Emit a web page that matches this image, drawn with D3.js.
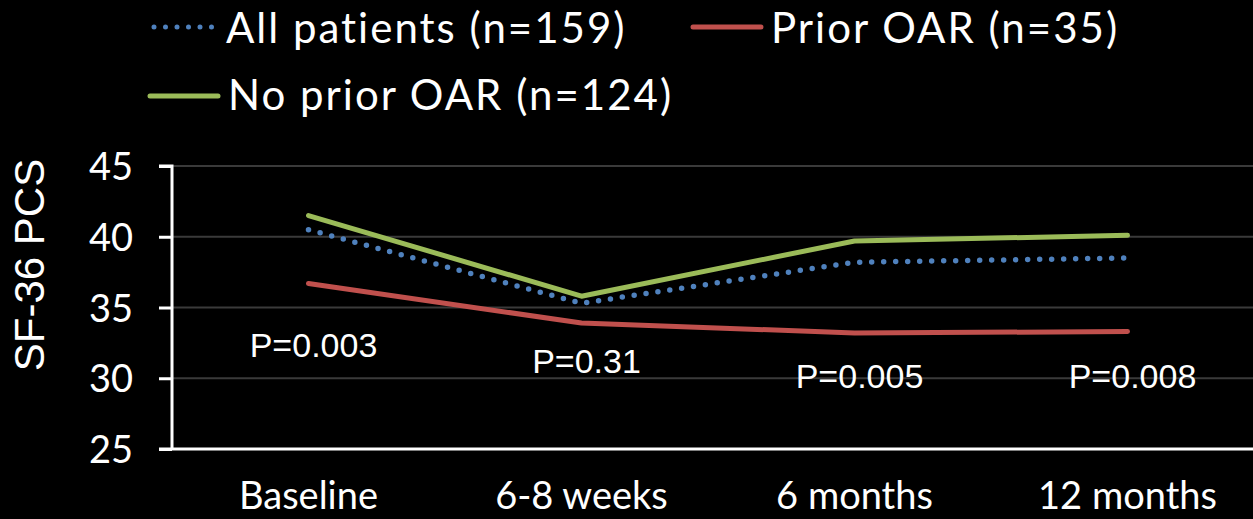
<!DOCTYPE html>
<html>
<head>
<meta charset="utf-8">
<script src="https://cdn.jsdelivr.net/npm/d3@7"></script>
<style>
  html, body { margin: 0; padding: 0; background: #000; }
  svg { display: block; }
</style>
</head>
<body>
<svg id="chart" width="1253" height="519"></svg>
<script>
// timepoints and SF-36 PCS means
const categories = ["Baseline", "6-8 weeks", "6 months", "12 months"]
const allPatients = [40.5, 35.3, 38.2, 38.5]
const priorOAR = [36.7, 33.9, 33.2, 33.3]
const noPriorOAR = [41.5, 35.8, 39.7, 40.1]
const pValues = ["P=0.003", "P=0.31", "P=0.005", "P=0.008"]
const yTicks = [25, 30, 35, 40, 45]

const series = [
    { name: "All patients (n=159)", values: allPatients, color: "#4F81BD", dotted: true },
    { name: "Prior OAR (n=35)", values: priorOAR, color: "#C0504D", dotted: false },
    { name: "No prior OAR (n=124)", values: noPriorOAR, color: "#9BBB59", dotted: false }
]

const GILL = "Lato, 'Open Sans', sans-serif"
const ARIAL = "'Liberation Sans', Arial, sans-serif"

const svg = d3.select("#chart")
const plot = { left: 172, right: 1264, top: 166, bottom: 449 }

const x = d3.scaleBand()
    .domain(categories)
    .range([plot.left, plot.right])

const y = d3.scaleLinear()
    .domain([25, 45])
    .range([plot.bottom, plot.top])

// gridlines
svg.append("g")
    .selectAll("line")
    .data(yTicks.slice(1))
    .enter()
    .append("line")
    .attr("x1", plot.left)
    .attr("x2", 1253)
    .attr("y1", d => y(d))
    .attr("y2", d => y(d))
    .attr("stroke", "#3a3a3a")
    .attr("stroke-width", 2)

// y axis
const yAxis = svg.append("g")
    .attr("transform", "translate(" + plot.left + ",0)")
    .call(d3.axisLeft(y).tickValues(yTicks).tickSize(13).tickPadding(26))
yAxis.selectAll("path, line").attr("stroke", "#fff").attr("stroke-width", 3)
yAxis.select(".domain").attr("d", "M-13," + plot.top + "H0V" + plot.bottom)
yAxis.selectAll("text")
    .attr("fill", "#fff")
    .attr("font-family", GILL)
    .attr("font-size", 38)
    .attr("dy", "0.36em")

// x axis
const xAxis = svg.append("g")
    .attr("transform", "translate(0," + plot.bottom + ")")
    .call(d3.axisBottom(x).tickSize(0).tickPadding(31))
xAxis.select(".domain").attr("stroke", "#fff").attr("stroke-width", 3)
    .attr("d", "M" + (plot.left - 13) + ",0H1253")
xAxis.selectAll("text")
    .attr("fill", "#fff")
    .attr("font-family", GILL)
    .attr("font-size", 38)
    .attr("dy", "0.75em")

// y title
svg.append("text")
    .attr("transform", "translate(44,265) rotate(-90)")
    .attr("text-anchor", "middle")
    .attr("fill", "#fff")
    .attr("font-family", ARIAL)
    .attr("font-size", 42)
    .text("SF-36 PCS")

// lines
const line = d3.line()
    .x((d, i) => x(categories[i]) + x.bandwidth() / 2)
    .y(d => y(d))

series.forEach(s => {
    svg.append("path")
        .datum(s.values)
        .attr("d", line)
        .attr("fill", "none")
        .attr("stroke", s.color)
        .attr("stroke-width", s.dotted ? 5.5 : 5)
        .attr("stroke-linecap", "round")
        .attr("stroke-linejoin", "round")
        .attr("stroke-dasharray", s.dotted ? "0 12" : null)
})

// p-value labels (vertical placement in data units)
const pLabelLevel = [31.5, 30.4, 29.3, 29.3]
svg.append("g")
    .selectAll("text")
    .data(pValues)
    .enter()
    .append("text")
    .attr("x", (d, i) => x(categories[i]) + x.bandwidth() / 2 + 5)
    .attr("y", (d, i) => y(pLabelLevel[i]))
    .attr("text-anchor", "middle")
    .attr("fill", "#fff")
    .attr("font-family", ARIAL)
    .attr("font-size", 34)
    .text(d => d)

// legend
const legendPos = [
    { lx: 148, ly: 27, tx: 226, ty: 43 },
    { lx: 693, ly: 27, tx: 771, ty: 43 },
    { lx: 150, ly: 96, tx: 228, ty: 110 }
]
series.forEach((s, i) => {
    const p = legendPos[i]
    svg.append("line")
        .attr("x1", p.lx + (s.dotted ? 6 : 0))
        .attr("x2", p.lx + 68)
        .attr("y1", p.ly)
        .attr("y2", p.ly)
        .attr("stroke", s.color)
        .attr("stroke-width", s.dotted ? 5 : 5)
        .attr("stroke-linecap", "round")
        .attr("stroke-dasharray", s.dotted ? "0 11.5" : null)
    svg.append("text")
        .attr("x", p.tx)
        .attr("y", p.ty)
        .attr("fill", "#fff")
        .attr("font-family", GILL)
        .attr("font-size", 42)
        .attr("letter-spacing", 2)
        .text(s.name)
})
</script>
</body>
</html>
